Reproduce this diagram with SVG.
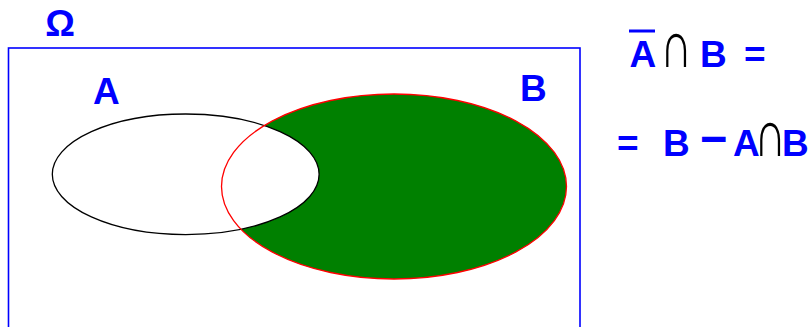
<svg xmlns="http://www.w3.org/2000/svg" width="808" height="327" viewBox="0 0 808 327">
<style>
.t{font-family:"Liberation Sans",Arial,sans-serif;font-weight:bold;fill:#0000ff;font-size:37px}
.cap{font-family:"Liberation Serif",serif;font-weight:normal;fill:#000;font-size:66px}
</style>
<rect width="808" height="327" fill="#fff"/>
<g id="omega">
<rect x="8.5" y="48" width="571.5" height="300" fill="none" stroke="#0000ff" stroke-width="1.6"/>
<text class="t" x="60" y="36" text-anchor="middle" style="font-size:37px">Ω</text>
</g>
<g id="setB">
<ellipse cx="394" cy="186.5" rx="172.5" ry="92.5" fill="#008000"/>
<text class="t" x="520" y="101">B</text>
</g>
<g id="setA">
<ellipse cx="185.7" cy="174.3" rx="133.4" ry="60.3" fill="#fff" stroke="#000" stroke-width="1.3"/>
<text class="t" x="93" y="104">A</text>
</g>
<g id="setB-outline">
<ellipse cx="394" cy="186.5" rx="172.5" ry="92.5" fill="none" stroke="#ff0000" stroke-width="1.3"/>
</g>
<g id="formula">
<line x1="629" y1="31" x2="655" y2="31" stroke="#0000ff" stroke-width="3"/>
<text class="t" y="67"><tspan x="629.5">A</tspan><tspan x="700">B</tspan><tspan x="744">=</tspan></text>
<text class="cap" transform="translate(660,67) scale(0.68,1)">∩</text>
<text class="t" y="156"><tspan x="617">=</tspan><tspan x="663">B</tspan><tspan x="733">A</tspan><tspan x="782">B</tspan></text>
<text class="t" x="700" y="155" style="font-size:47px">−</text>
<text class="cap" transform="translate(754,156) scale(0.68,1)">∩</text>
</g>
</svg>
